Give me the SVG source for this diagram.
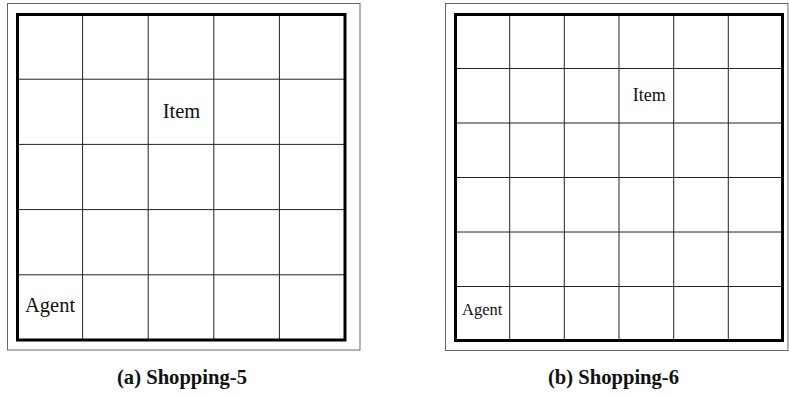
<svg xmlns="http://www.w3.org/2000/svg" width="789" height="396" viewBox="0 0 789 396">
<style>
.frame{fill:none;stroke:#666;stroke-width:1}
.border{fill:none;stroke:#000;stroke-width:3}
.grid{stroke:#222;stroke-width:1;fill:none}
.lbl{font-family:"Liberation Serif","Times New Roman",serif;fill:#111}
.cap{font-family:"Liberation Serif","Times New Roman",serif;font-weight:bold;font-size:20px;fill:#111;text-anchor:middle}
</style>
<rect width="789" height="396" fill="#fff"/>
<g id="panel-a">
<rect class="frame" x="7.5" y="3.5" width="352.5" height="346.5"/>
<g class="grid">
<line x1="82.6" y1="14" x2="82.6" y2="340"/>
<line x1="148.2" y1="14" x2="148.2" y2="340"/>
<line x1="213.8" y1="14" x2="213.8" y2="340"/>
<line x1="279.4" y1="14" x2="279.4" y2="340"/>
<line x1="17" y1="79.2" x2="345" y2="79.2"/>
<line x1="17" y1="144.4" x2="345" y2="144.4"/>
<line x1="17" y1="209.6" x2="345" y2="209.6"/>
<line x1="17" y1="274.8" x2="345" y2="274.8"/>
</g>
<rect class="border" x="17.5" y="14.5" width="327.5" height="325.5"/>
<text id="item-a" class="lbl" x="162.7" y="118.3" font-size="20.5">Item</text>
<text id="agent-a" class="lbl" x="25" y="312.3" font-size="20.5">Agent</text>
<text class="cap" x="182" y="384" textLength="130" lengthAdjust="spacingAndGlyphs">(a) Shopping-5</text>
</g>
<g id="panel-b">
<rect class="frame" x="445.5" y="3.5" width="342.5" height="347"/>
<g class="grid">
<line x1="509.7" y1="14" x2="509.7" y2="341"/>
<line x1="564.3" y1="14" x2="564.3" y2="341"/>
<line x1="619" y1="14" x2="619" y2="341"/>
<line x1="673.7" y1="14" x2="673.7" y2="341"/>
<line x1="728.3" y1="14" x2="728.3" y2="341"/>
<line x1="455" y1="68.5" x2="783" y2="68.5"/>
<line x1="455" y1="123" x2="783" y2="123"/>
<line x1="455" y1="177.5" x2="783" y2="177.5"/>
<line x1="455" y1="232" x2="783" y2="232"/>
<line x1="455" y1="286.5" x2="783" y2="286.5"/>
</g>
<rect class="border" x="455.5" y="14.5" width="327" height="326"/>
<text id="item-b" class="lbl" x="632.7" y="100.7" font-size="18">Item</text>
<text id="agent-b" class="lbl" x="462" y="314.5" font-size="16.5">Agent</text>
<text class="cap" x="613.5" y="384" textLength="131" lengthAdjust="spacingAndGlyphs">(b) Shopping-6</text>
</g>
</svg>
